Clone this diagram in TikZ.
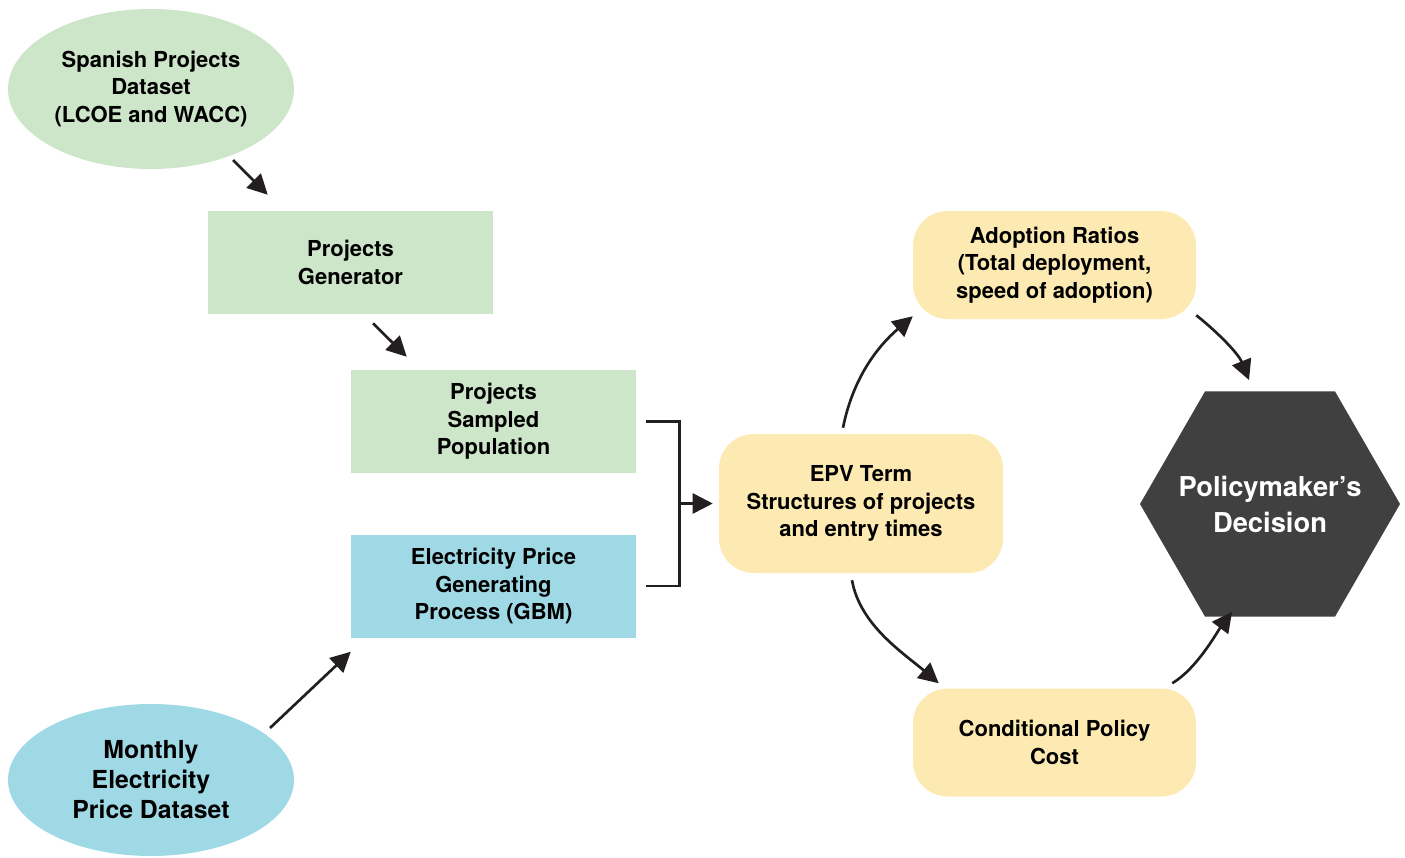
\documentclass[tikz,border=0pt]{standalone}
\usepackage{fontspec}
\setmainfont{TeX Gyre Heros}
\usetikzlibrary{shapes.geometric,arrows.meta}
\definecolor{cgreen}{HTML}{CDE5C8}
\definecolor{cblue}{HTML}{A0D9E6}
\definecolor{cyellow}{HTML}{FDEAB3}
\definecolor{cdark}{HTML}{404040}
\definecolor{cline}{HTML}{231F20}
\begin{document}
\begin{tikzpicture}[x=0.75pt,y=-0.75pt,
  lbl/.style={font=\fontsize{16.5}{20.6}\selectfont\bfseries, text=black, align=center, inner sep=0pt},
  oval/.style={ellipse, lbl, minimum width=214.5pt, minimum height=120pt},
  rect/.style={rectangle, lbl, minimum width=213.75pt, minimum height=77.25pt},
  rbox/.style={rectangle, rounded corners=26pt, fill=cyellow, lbl, minimum width=212.25pt, minimum height=81pt},
  hexa/.style={regular polygon, regular polygon sides=6, minimum size=195pt, fill=cdark, inner sep=0pt, outer sep=0pt},
  arr/.style={draw=cline, line width=2pt, -{Triangle[length=15pt,width=15pt]}},
  brk/.style={draw=cline, line width=2pt}
  ]
\useasboundingbox (0,0) rectangle (1405,857);

\node[oval, fill=cgreen] (sp) at (151,89) {Spanish Projects\\Dataset\\(LCOE and WACC)};
\node[rect, fill=cgreen] (gen) at (350.5,262.5) {Projects\\Generator};
\node[rect, fill=cgreen] (samp) at (493.5,421.5) {Projects\\Sampled\\Population};
\node[rect, fill=cblue] (elec) at (493.5,586) {Electricity Price\\Generating\\Process (GBM)};
\node[oval, fill=cblue, minimum height=114pt, font=\fontsize{18.6}{22.5}\selectfont\bfseries] (mon) at (151,780) {Monthly\\Electricity\\Price Dataset};
\node[rbox, minimum height=104.25pt, minimum width=213pt] (epv) at (861,503.5) {EPV Term\\Structures of projects\\and entry times};
\node[rbox] (adopt) at (1054.5,265) {Adoption Ratios\\(Total deployment,\\speed of adoption)};
\node[rbox] (cond) at (1054.5,742.5) {Conditional Policy\\Cost};
\node[hexa] (dec) at (1270,504) {};
\node[text=white, align=center, inner sep=0pt, font=\fontsize{20.5}{27}\selectfont\bfseries] (dectxt) at (dec.center) {Policymaker’s\\Decision};

\draw[arr] ([shift={(82,71)}]sp.center) -- ([shift={(60,-16)}]gen.north west);
\draw[arr] ([shift={(22.5,9)}]gen.south) -- ([shift={(56,-13)}]samp.north west);
\draw[arr] ([shift={(119,-52)}]mon.center) -- ([shift={(0,14)}]elec.south west);

\draw[brk] ([shift={(10,0)}]samp.east) -- ++(33,0) coordinate (bt) |- ([shift={(10,0)}]elec.east);
\draw[arr] (bt |- epv.west) -- ([shift={(-6,0)}]epv.west);

\draw[arr] ([shift={(-18,-6)}]epv.north) .. controls +(10,-50) and +(-35,30) .. ([shift={(0,-3)}]adopt.south west);
\draw[arr] ([shift={(-9,7)}]epv.south) .. controls +(8,45) and +(-35,-30) .. ([shift={(26,-5)}]cond.north west);
\draw[arr] ([shift={(0,-4)}]adopt.south east) .. controls +(25,20) and +(-10,-25) .. ([shift={(-21,-124)}]dec.center);
\draw[arr] ([shift={(-24,-5)}]cond.north east) .. controls +(25,-15) and +(-15,20) .. ([shift={(-38,108)}]dec.center);
\end{tikzpicture}
\end{document}
